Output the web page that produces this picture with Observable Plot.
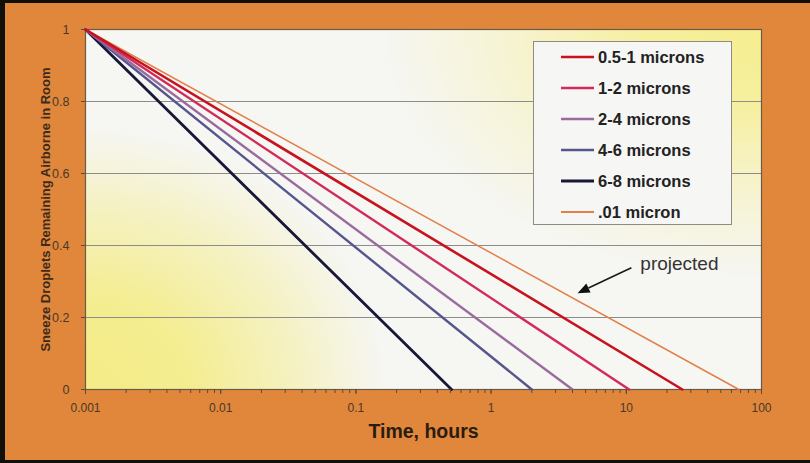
<!DOCTYPE html>
<html><head><meta charset="utf-8">
<script src="https://cdn.jsdelivr.net/npm/d3@7"></script>
<script src="https://cdn.jsdelivr.net/npm/@observablehq/plot@0.6"></script>
<style>
html,body{margin:0;padding:0;overflow:hidden;background:#e0873c;}
#wrap{position:relative;width:810px;height:463px;overflow:hidden;background:#e0873c;font-family:"Liberation Sans",Arial,sans-serif;}
#wrap svg{position:absolute;left:0;top:0;}
#legend{position:absolute;left:533px;top:41px;width:199px;height:184px;box-sizing:border-box;background:#f6f6f4;border:1px solid #8e8a84;}
.row{position:absolute;left:27px;height:20px;display:flex;align-items:center;}
.row span{font-size:16.5px;font-weight:bold;color:#222;margin-left:4px;white-space:nowrap;}
#border{position:absolute;left:0;top:0;width:810px;height:463px;box-sizing:border-box;border-top:3px solid #120e0a;border-left:5px solid #120e0a;border-bottom:3px solid #120e0a;pointer-events:none;}
</style></head><body><div id="wrap"><div id="border"></div></div>
<script>
// ---- data ----
const series = ["0.5-1 microns","1-2 microns","2-4 microns","4-6 microns","6-8 microns",".01 micron"];
const startTime = 0.001;          // hours, all series start here
const startFraction = 1;          // fraction airborne at start
const endTimes = [26, 10.5, 4, 2, 0.51, 68];   // hours where fraction reaches 0
const endFraction = 0;
const colors = ["#c8121f","#d22a5a","#9a6c9e","#56568e","#17173a","#e2804a"];
const widths = [2.6, 2.4, 2.4, 2.4, 2.8, 1.5];
const xTicks = [0.001, 0.01, 0.1, 1, 10, 100];
const yTicks = [0, 0.2, 0.4, 0.6, 0.8, 1];
const xTitle = "Time, hours";
const yTitle = "Sneeze Droplets Remaining Airborne in Room";
const noteText = ["projected"];
const noteTextPos = [12.7, 0.35];
const noteArrowFrom = [11, 0.337];
const noteArrowTo = [4.4, 0.266];

const rows = series.flatMap((s, i) => [
  {series: s, time: startTime, fraction: startFraction},
  {series: s, time: endTimes[i], fraction: endFraction}
]);

function background(index, scales, values, dims) {
  const l = dims.marginLeft, t = dims.marginTop;
  const w = dims.width - dims.marginLeft - dims.marginRight;
  const h = dims.height - dims.marginTop - dims.marginBottom;
  const g = d3.create("svg:g");
  const defs = g.append("defs");
  const clip = defs.append("clipPath").attr("id", "plotclip");
  clip.append("rect").attr("x", l).attr("y", t).attr("width", w).attr("height", h);
  const mk = (id, color, stops) => {
    const rg = defs.append("radialGradient").attr("id", id);
    stops.forEach(([o, op]) => rg.append("stop").attr("offset", o).attr("stop-color", color).attr("stop-opacity", op));
  };
  mk("glowA", "#f4ec86", [["0%", 1], ["35%", 0.9], ["70%", 0.45], ["100%", 0]]);
  mk("glowB", "#f6ee90", [["0%", 1], ["30%", 0.85], ["65%", 0.35], ["100%", 0]]);
  g.append("rect").attr("x", l).attr("y", t).attr("width", w).attr("height", h).attr("fill", "#f6f6f3");
  const gg = g.append("g").attr("clip-path", "url(#plotclip)");
  gg.append("ellipse").attr("cx", l).attr("cy", t + h).attr("rx", 300).attr("ry", 260).attr("fill", "url(#glowA)");
  gg.append("ellipse").attr("cx", l + w).attr("cy", t).attr("rx", 380).attr("ry", 250).attr("fill", "url(#glowB)");
  return g.node();
}

function arrowHead(index, scales) {
  const x1 = scales.x(noteArrowFrom[0]), y1 = scales.y(noteArrowFrom[1]);
  const x2 = scales.x(noteArrowTo[0]), y2 = scales.y(noteArrowTo[1]);
  const a = Math.atan2(y2 - y1, x2 - x1);
  const L = 12, W = 5;
  const bx = x2 - L * Math.cos(a), by = y2 - L * Math.sin(a);
  const px = -Math.sin(a) * W, py = Math.cos(a) * W;
  const g = d3.create("svg:g");
  g.append("line").attr("x1", x1).attr("y1", y1).attr("x2", bx).attr("y2", by)
    .attr("stroke", "#1a1a1a").attr("stroke-width", 1.6);
  g.append("path").attr("d", `M${x2},${y2}L${bx + px},${by + py}L${bx - px},${by - py}Z`).attr("fill", "#111");
  return g.node();
}

const minorTicks = d3.scaleLog().domain([xTicks[0], xTicks[xTicks.length - 1]]).ticks();

const lineMarks = series.map((s, i) => Plot.line(rows.filter(d => d.series === s), {
  x: "time", y: "fraction", stroke: colors[i], strokeWidth: widths[i]
})).reverse();

const plot = Plot.plot({
  width: 810, height: 463,
  marginLeft: 85, marginRight: 49, marginTop: 29, marginBottom: 74,
  style: {background: "transparent", fontFamily: "Liberation Sans, Arial, sans-serif", color: "#4a3828"},
  x: {type: "log", domain: [xTicks[0], xTicks[xTicks.length - 1]], label: null},
  y: {domain: [yTicks[0], yTicks[yTicks.length - 1]], label: null},
  marks: [
    background,
    Plot.gridY(yTicks, {stroke: "#8c8c8c", strokeOpacity: 1, strokeWidth: 1}),
    Plot.frame({stroke: "#6b5a48", strokeWidth: 1.2}),
    ...lineMarks,
    Plot.axisX(minorTicks, {tickSize: 4, tickFormat: () => "", stroke: "#5a4a3a", label: null}),
    Plot.axisX(xTicks, {tickSize: 5, tickPadding: 9, tickFormat: d => String(d), fontSize: 12, fill: "#4a3828", stroke: "#5a4a3a", label: null}),
    Plot.axisY(yTicks, {tickSize: 4, tickPadding: 12, tickFormat: d => String(d), fontSize: 12.5, fill: "#4a3828", stroke: "#5a4a3a", label: null}),
    Plot.text([xTitle], {frameAnchor: "bottom", dy: 48, fontSize: 19.5, fontWeight: "bold", fill: "#2a1c10"}),
    Plot.text([yTitle], {frameAnchor: "left", textAnchor: "middle", dx: -40, rotate: -90, fontSize: 13, fontWeight: "bold", fill: "#3e2a1a"}),
    Plot.text(noteText, {x: noteTextPos[0], y: noteTextPos[1], textAnchor: "start", fontSize: 19, fill: "#333"}),
    arrowHead
  ]
});

const wrap = document.getElementById("wrap");
wrap.insertBefore(plot, wrap.firstChild);

const legend = document.createElement("div");
legend.id = "legend";
series.forEach((s, i) => {
  const row = document.createElement("div");
  row.className = "row";
  row.style.top = (5 + i * 31) + "px";
  row.innerHTML = `<svg width="33" height="6" style="position:static"><line x1="0" y1="3" x2="33" y2="3" stroke="${colors[i]}" stroke-width="${Math.max(widths[i], 2.2)}"/></svg><span>${s}</span>`;
  legend.appendChild(row);
});
wrap.insertBefore(legend, document.getElementById("border"));
</script>
</body></html>
